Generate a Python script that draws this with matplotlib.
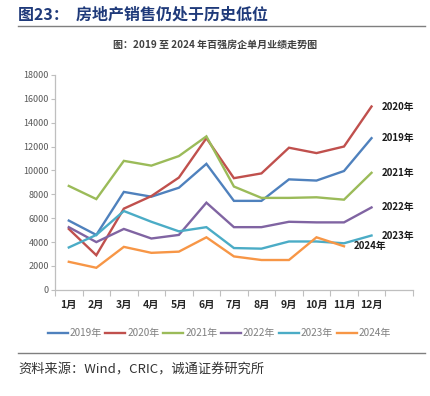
import matplotlib
matplotlib.use('Agg')
import matplotlib.pyplot as plt
from matplotlib.lines import Line2D

plt.rcParams['font.family'] = ['Noto Sans CJK SC', 'DejaVu Sans']

# monthly sales of top-100 developers (亿元)
months = ['1月', '2月', '3月', '4月', '5月', '6月', '7月', '8月', '9月', '10月', '11月', '12月']
years = ['2019年', '2020年', '2021年', '2022年', '2023年', '2024年']
sales_2019 = [5800, 4600, 8200, 7800, 8550, 10550, 7450, 7450, 9250, 9150, 9950, 12700]
sales_2020 = [5100, 2900, 6800, 7850, 9400, 12700, 9350, 9750, 11900, 11450, 12000, 15350]
sales_2021 = [8700, 7600, 10800, 10400, 11200, 12850, 8650, 7700, 7700, 7750, 7550, 9800]
sales_2022 = [5250, 4000, 5100, 4300, 4600, 7300, 5250, 5250, 5700, 5650, 5650, 6900]
sales_2023 = [3550, 4600, 6600, 5700, 4900, 5250, 3500, 3450, 4050, 4050, 3900, 4550]
sales_2024 = [2350, 1850, 3600, 3100, 3200, 4400, 2800, 2500, 2500, 4400, 3650]

series = [sales_2019, sales_2020, sales_2021, sales_2022, sales_2023, sales_2024]
colors = ['#4F81BD', '#C0504D', '#9BBB59', '#8064A2', '#4BACC6', '#F79646']

fig = plt.figure(figsize=(4.30, 3.96), dpi=100)
ax = fig.add_axes([0.128, 0.268, 0.832, 0.543])

for vals, c, name in zip(series, colors, years):
    x = list(range(len(vals)))
    ax.plot(x, vals, color=c, lw=1.7, solid_joinstyle='miter')
    ax.annotate(name, (x[-1], vals[-1]), xytext=(7, 0), textcoords='offset points',
                va='center', ha='left', fontsize=7, color='#1a1a1a', fontweight='bold')

# axes styling
ax.set_xlim(-0.5, 12.5)
ax.set_ylim(0, 18000)
ax.set_yticks(range(0, 18001, 2000))
ax.tick_params(axis='y', labelsize=6.5, labelcolor='#595959', length=3, width=0.8, pad=1.5,
               color='#BFBFBF')
ax.set_xticks(range(12))
ax.set_xticklabels(months, fontsize=7.5, fontweight='bold', color='#262626')
ax.set_xticks([i - 0.5 for i in range(14)], minor=True)
ax.tick_params(axis='x', which='major', length=0, pad=7)
ax.tick_params(axis='x', which='minor', length=4, width=0.8, color='#BFBFBF')
for s in ['top', 'right']:
    ax.spines[s].set_visible(False)
for s in ['left', 'bottom']:
    ax.spines[s].set_color('#BFBFBF')
    ax.spines[s].set_linewidth(0.9)

# legend
handles = [Line2D([0], [0], color=c, lw=1.7) for c in colors]
fig.legend(handles, years, loc='center', bbox_to_anchor=(0.51, 0.159), ncol=6,
           frameon=False, fontsize=7.2, handlelength=2.0, handletextpad=0.2,
           columnspacing=0.35, labelcolor='#7F7F7F')

# titles and source
fig.text(0.042, 0.962, '图23：  房地产销售仍处于历史低位', fontsize=11.5, fontweight='bold',
         color='#1F3A7A', va='center', ha='left')
fig.add_artist(Line2D([0.042, 0.988], [0.934, 0.934], color='#7F7F7F', lw=1.0))
fig.text(0.5, 0.886, '图：2019 至 2024 年百强房企单月业绩走势图', fontsize=7.2, fontweight='bold',
         color='#404040', va='center', ha='center')
fig.add_artist(Line2D([0.042, 0.988], [0.108, 0.108], color='#7F7F7F', lw=1.0))
fig.text(0.042, 0.066, '资料来源：Wind，CRIC，诚通证券研究所', fontsize=9.5,
         color='#333333', va='center', ha='left')

fig.savefig('out.png', dpi=100)
